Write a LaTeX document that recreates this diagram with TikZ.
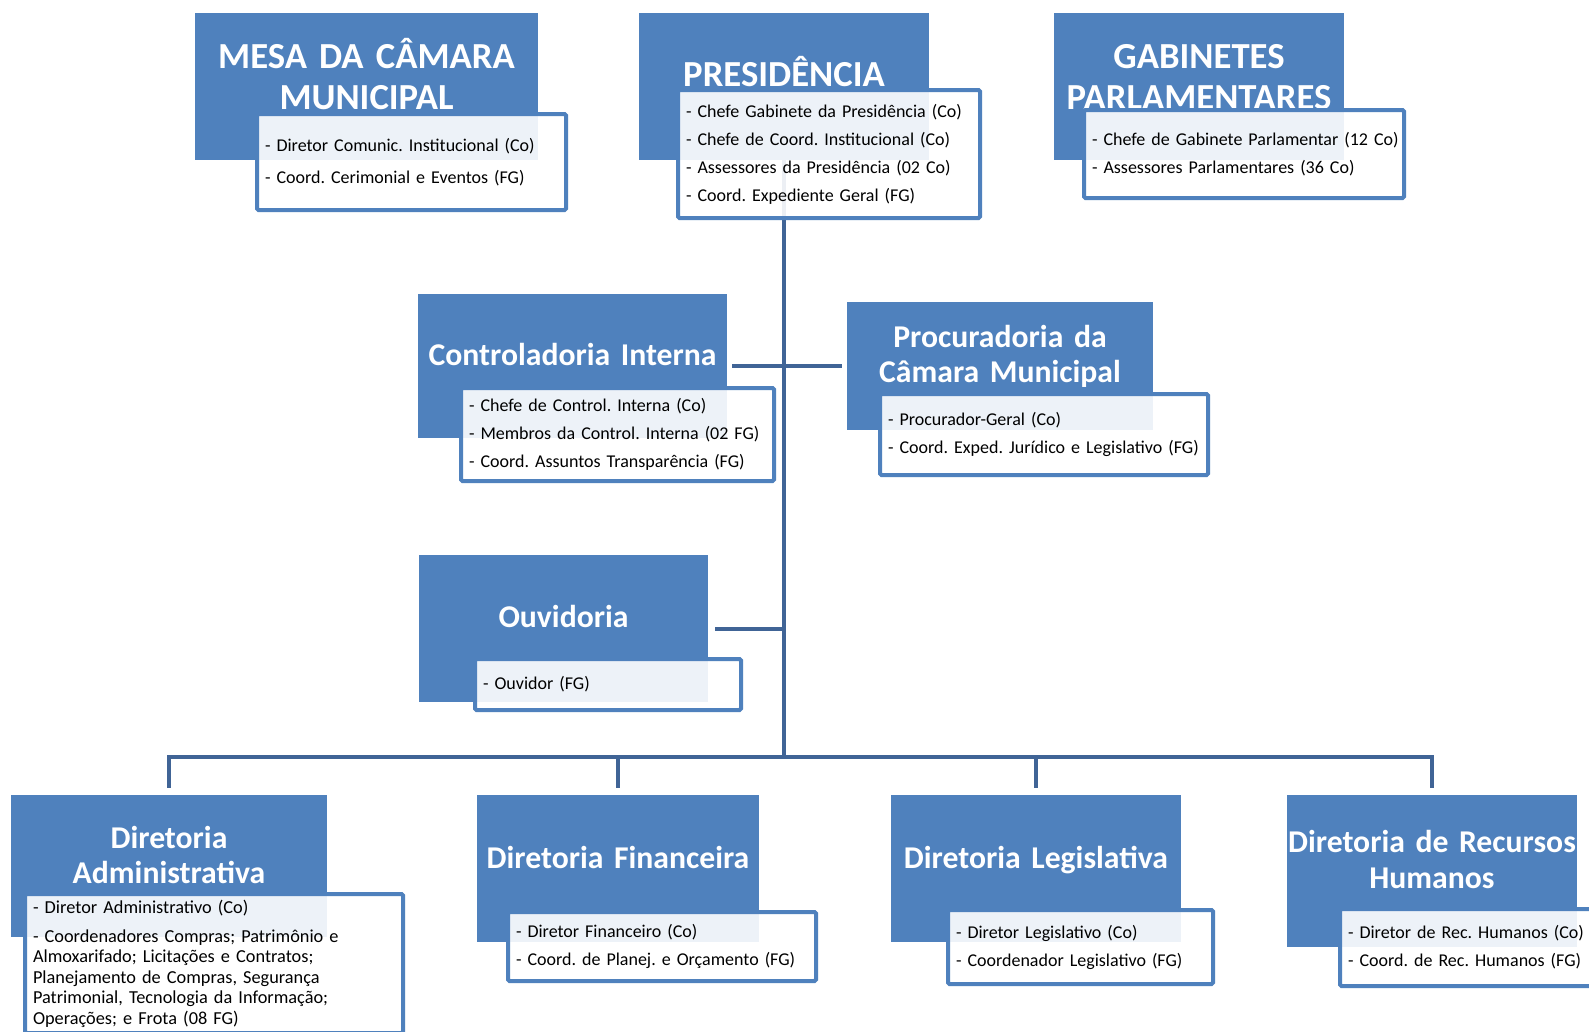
\documentclass[tikz,border=0pt]{standalone}
\usepackage{fontspec}
\setmainfont{Carlito}
\usetikzlibrary{positioning}
\definecolor{boxblue}{RGB}{79,129,189}
\definecolor{linkblue}{RGB}{64,100,150}

\begin{document}
\begin{tikzpicture}[
    x=1pt, y=-1pt,
    unitbox/.style={fill=boxblue, inner sep=0pt},
    bigname/.style={text=white, font=\fontsize{36.7}{41.5}\selectfont\bfseries\frenchspacing, align=center, anchor=base, inner sep=0pt},
    unitname/.style={text=white, font=\fontsize{31.7}{35.5}\selectfont\bfseries\frenchspacing, align=center, anchor=base, inner sep=0pt},
    duties/.style={draw=boxblue, line width=4pt, rounded corners=1.5pt, fill=white, fill opacity=0.9, text opacity=1,
      inner xsep=8pt, inner ysep=0pt, align=left, font=\fontsize{18}{28}\selectfont\frenchspacing},
    link/.style={draw=linkblue, line width=4pt}
  ]
  \path[use as bounding box, fill=white] (0,0) rectangle (1589,1031);

  % blue boxes
  \node[unitbox, minimum width=343pt, minimum height=147pt] (MesaBox) at (366.5,86.5) {};
  \node[unitbox, minimum width=290pt, minimum height=147pt] (PresBox) at (784,86.5) {};
  \node[unitbox, minimum width=290pt, minimum height=147pt] (GabBox) at (1199,86.5) {};
  \node[unitbox, minimum width=309pt, minimum height=144pt] (CtrlBox) at (572.5,366) {};
  \node[unitbox, minimum width=306pt, minimum height=128pt] (ProcBox) at (1000,366) {};
  \node[unitbox, minimum width=289pt, minimum height=147pt] (OuvBox) at (563.5,628.5) {};
  \node[unitbox, minimum width=316pt, minimum height=142pt] (AdmBox) at (169,866) {};
  \node[unitbox, minimum width=282pt, minimum height=147pt] (FinBox) at (618,868.5) {};
  \node[unitbox, minimum width=290pt, minimum height=147pt] (LegBox) at (1036,868.5) {};
  \node[unitbox, minimum width=290pt, minimum height=152pt] (RHBox) at (1432,871) {};

  % names
  \node[bigname, text width=343pt] (Mesa) at (366.5,68) {MESA DA CÂMARA\\MUNICIPAL};
  \node[bigname, text width=290pt] (Pres) at (784,86.5) {PRESIDÊNCIA};
  \node[bigname, text width=290pt] (Gab) at (1199,68) {GABINETES\\PARLAMENTARES};
  \node[unitname, text width=309pt] (Ctrl) at (572.5,365) {Controladoria Interna};
  \node[unitname, text width=306pt] (Proc) at (1000,347.3) {Procuradoria da\\Câmara Municipal};
  \node[unitname, text width=289pt] (Ouv) at (563.5,627.3) {Ouvidoria};
  \node[unitname, text width=316pt] (Adm) at (169,848.3) {Diretoria\\Administrativa};
  \node[unitname, text width=282pt] (Fin) at (618,868.3) {Diretoria Financeira};
  \node[unitname, text width=290pt] (Leg) at (1036,868.3) {Diretoria Legislativa};
  \node[unitname, text width=300pt] (RH) at (1432,852.7) {Diretoria de Recursos\\Humanos};

  % links
  \coordinate (Bus) at (PresBox.south |- 0,757);
  \draw[link] (PresBox.south) -- (Bus);
  \draw[link] ([yshift=7pt]AdmBox.north) -- (AdmBox.north |- Bus) -- (RHBox.north |- Bus) -- ([yshift=7pt]RHBox.north);
  \draw[link] (Bus -| FinBox.north) -- ([yshift=7pt]FinBox.north);
  \draw[link] (Bus -| LegBox.north) -- ([yshift=7pt]LegBox.north);
  \draw[link, shorten <=5pt, shorten >=5pt] (CtrlBox) -- (ProcBox);
  \draw[link, shorten <=7pt] (OuvBox) -- (OuvBox -| Bus);

  % duties
  \node[duties, minimum width=309pt, minimum height=96pt, text width=293pt] (MesaList) at (411.5,162)
    {- Diretor Comunic. Institucional (Co)\\[4pt]- Coord. Cerimonial e Eventos (FG)};
  \node[duties, minimum width=302pt, minimum height=128pt, text width=286pt] (PresList) at (829,154)
    {- Chefe Gabinete da Presidência (Co)\\- Chefe de Coord. Institucional (Co)\\- Assessores da Presidência (02 Co)\\- Coord. Expediente Geral (FG)};
  \node[duties, minimum width=320pt, minimum height=88pt, text width=304pt] (GabList) at (1244,154)
    {\mbox{- Chefe de Gabinete Parlamentar (12 Co)}\\- Assessores Parlamentares (36 Co)};
  \node[duties, minimum width=313pt, minimum height=93pt, text width=297pt] (CtrlList) at (617.5,434.5)
    {- Chefe de Control. Interna (Co)\\- Membros da Control. Interna (02 FG)\\- Coord. Assuntos Transparência (FG)};
  \node[duties, minimum width=328pt, minimum height=81pt, text width=312pt] (ProcList) at (1044,434.5)
    {- Procurador-Geral (Co)\\- Coord. Exped. Jurídico e Legislativo (FG)};
  \node[duties, minimum width=266pt, minimum height=51pt, text width=250pt] (OuvList) at (608,684.5)
    {- Ouvidor (FG)};
  \node[duties, minimum width=378pt, minimum height=139pt, text width=362pt, font=\fontsize{18.3}{20.5}\selectfont\frenchspacing] (AdmList) at (214,963.5)
    {- Diretor Administrativo (Co)\\[8.5pt]- Coordenadores Compras; Patrimônio e\\Almoxarifado; Licitações e Contratos;\\Planejamento de Compras, Segurança\\Patrimonial, Tecnologia da Informação;\\Operações; e Frota (08 FG)};
  \node[duties, minimum width=308pt, minimum height=69pt, text width=292pt] (FinList) at (662,946.5)
    {- Diretor Financeiro (Co)\\- Coord. de Planej. e Orçamento (FG)};
  \node[duties, minimum width=265pt, minimum height=74pt, text width=249pt] (LegList) at (1080.5,947)
    {- Diretor Legislativo (Co)\\- Coordenador Legislativo (FG)};
  \node[duties, minimum width=308pt, minimum height=77pt, text width=292pt] (RHList) at (1494,947.5)
    {- Diretor de Rec. Humanos (Co)\\- Coord. de Rec. Humanos (FG)};
\end{tikzpicture}
\end{document}
